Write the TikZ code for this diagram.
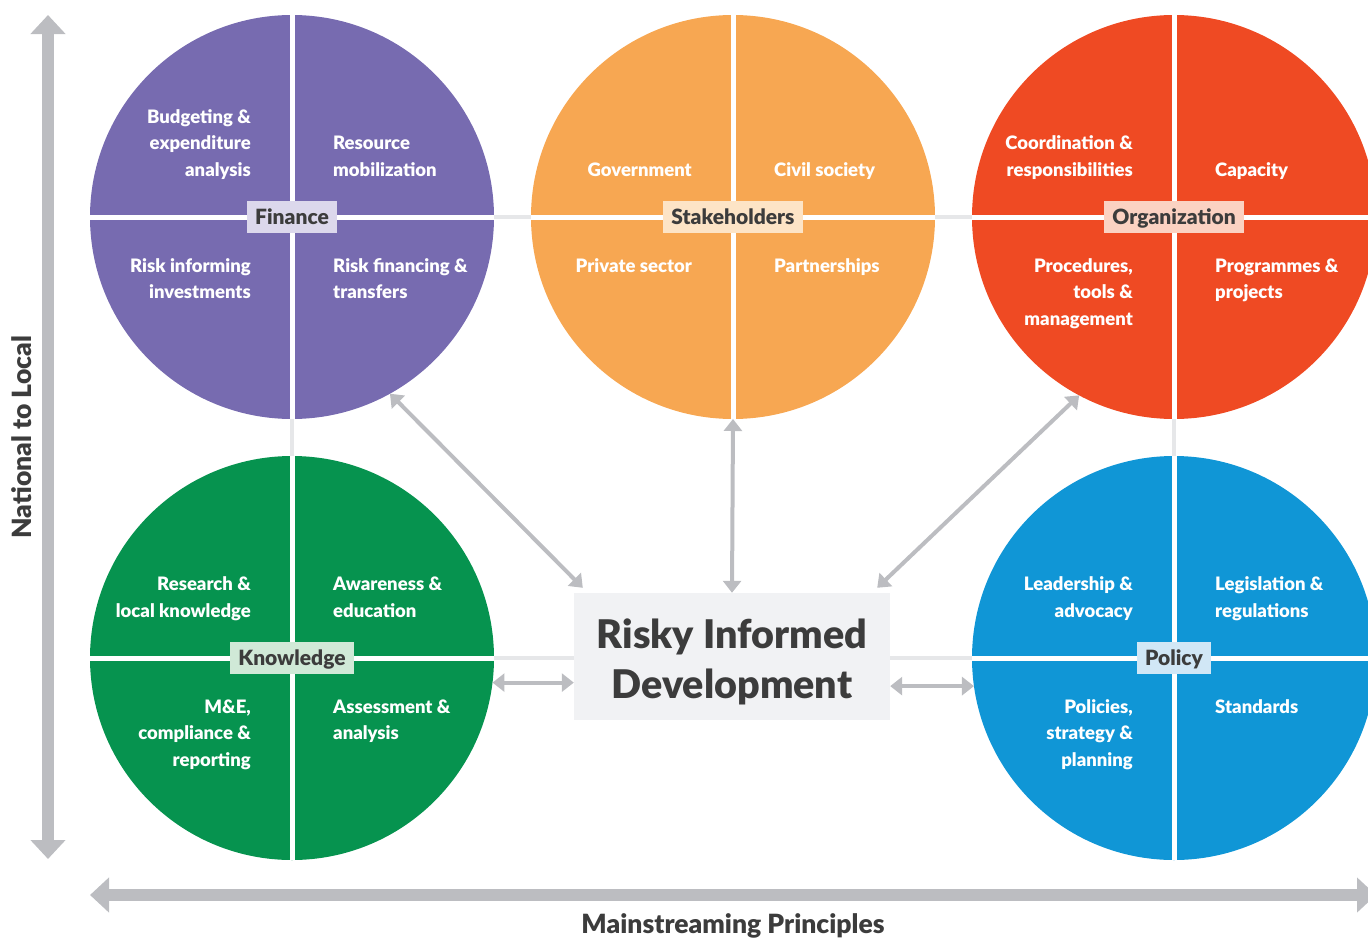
\documentclass[tikz,border=0pt]{standalone}
\usepackage{fontspec}
\setmainfont{Lato}[BoldFont={Lato Black}]
\usetikzlibrary{arrows.meta}
\definecolor{fincol}{HTML}{776BB0}
\definecolor{stkcol}{HTML}{F7A752}
\definecolor{orgcol}{HTML}{EF4A23}
\definecolor{kncol}{HTML}{06934F}
\definecolor{polcol}{HTML}{1096D6}
\definecolor{finl}{HTML}{DCD8EC}
\definecolor{stkl}{HTML}{FDE4C6}
\definecolor{orgl}{HTML}{FBD2C2}
\definecolor{knl}{HTML}{D0E9D7}
\definecolor{poll}{HTML}{D1E7F6}
\definecolor{axiscol}{HTML}{BCBDC1}
\definecolor{linkcol}{HTML}{E6E7E9}
\definecolor{txtcol}{HTML}{3C3C3C}
\definecolor{ridbg}{HTML}{F1F2F4}
\begin{document}
\begin{tikzpicture}[x=1pt,y=-1pt,
  blob/.style={circle,minimum size=404pt,inner sep=0pt,outer sep=0pt},
  linkline/.style={draw=linkcol,line width=4.5pt},
  divider/.style={draw=white,line width=5pt},
  tag/.style={font=\bfseries\fontsize{21}{24}\selectfont,text=txtcol,inner xsep=8pt,inner ysep=0pt,text height=17pt,text depth=2pt,minimum height=32pt},
  qt/.style={font=\bfseries\fontsize{18.5}{26.5}\selectfont,text=white,inner sep=0pt},
  bigarrow/.style={draw=axiscol,line width=12pt,{Triangle[length=19pt,width=34pt]}-{Triangle[length=19pt,width=34pt]}},
  thinarrow/.style={draw=axiscol,line width=4pt,{Triangle[length=12pt,width=18pt]}-{Triangle[length=12pt,width=18pt]}},
  axislabel/.style={font=\bfseries\fontsize{26.5}{30}\selectfont,text=txtcol,inner sep=0pt}]
\useasboundingbox (0,0) rectangle (1368,937);
\clip (0,0) rectangle (1368,937);
% circles
\node[blob,fill=fincol] (fin) at (292,217) {};
\node[blob,fill=stkcol] (stk) at (733,217) {};
\node[blob,fill=orgcol] (org) at (1174,217) {};
\node[blob,fill=kncol] (kno) at (292,658) {};
\node[blob,fill=polcol] (pol) at (1174,658) {};
% central box
\node[fill=ridbg,minimum width=316pt,minimum height=127pt,inner sep=0pt] (rid) at (732,656.5) {};
\node[font=\bfseries\fontsize{39.5}{50}\selectfont,text=txtcol,align=center,inner sep=0pt] (ridtext) at (732,662) {Risky Informed\\Development};
% light links
\draw[linkline] (fin.east) -- (stk.west);
\draw[linkline] (stk.east) -- (org.west);
\draw[linkline] (fin.south) -- (kno.north);
\draw[linkline] (org.south) -- (pol.north);
\draw[linkline] (kno.east) -- (kno.east -| rid.west);
\draw[linkline] (pol.west -| rid.east) -- (pol.west);
% dividers
\foreach \c in {fin,stk,org,kno,pol}{
  \draw[divider] (\c.north) -- (\c.south);
  \draw[divider] (\c.west) -- (\c.east);
}
% tags
\node[tag,fill=finl] (fintag) at (fin) {Finance};
\node[tag,fill=stkl] (stktag) at (stk) {Stakeholders};
\node[tag,fill=orgl] (orgtag) at (org) {Organization};
\node[tag,fill=knl] (knotag) at (kno) {Knowledge};
\node[tag,fill=poll] (poltag) at (pol) {Policy};
% Finance
\node[qt,anchor=base east] (f1) at (251,123) {\begin{tabular}[t]{@{}r@{}}Budgeting \&\\expenditure\\analysis\end{tabular}};
\node[qt,anchor=base west] (f2) at (333,149.5) {\begin{tabular}[t]{@{}l@{}}Resource\\mobilization\end{tabular}};
\node[qt,anchor=base east] (f3) at (251,272) {\begin{tabular}[t]{@{}r@{}}Risk informing\\investments\end{tabular}};
\node[qt,anchor=base west] (f4) at (333,272) {\begin{tabular}[t]{@{}l@{}}Risk financing \&\\transfers\end{tabular}};
% Stakeholders
\node[qt,anchor=base east] (s1) at (692,176) {Government};
\node[qt,anchor=base west] (s2) at (774,176) {Civil society};
\node[qt,anchor=base east] (s3) at (692,272) {Private sector};
\node[qt,anchor=base west] (s4) at (774,272) {Partnerships};
% Organization
\node[qt,anchor=base east] (o1) at (1133,149.5) {\begin{tabular}[t]{@{}r@{}}Coordination \&\\responsibilities\end{tabular}};
\node[qt,anchor=base west] (o2) at (1215,176) {Capacity};
\node[qt,anchor=base east] (o3) at (1133,272) {\begin{tabular}[t]{@{}r@{}}Procedures,\\tools \&\\management\end{tabular}};
\node[qt,anchor=base west] (o4) at (1215,272) {\begin{tabular}[t]{@{}l@{}}Programmes \&\\projects\end{tabular}};
% Knowledge
\node[qt,anchor=base east] (k1) at (251,590.5) {\begin{tabular}[t]{@{}r@{}}Research \&\\local knowledge\end{tabular}};
\node[qt,anchor=base west] (k2) at (333,590.5) {\begin{tabular}[t]{@{}l@{}}Awareness \&\\education\end{tabular}};
\node[qt,anchor=base east] (k3) at (251,713) {\begin{tabular}[t]{@{}r@{}}M\&E,\\compliance \&\\reporting\end{tabular}};
\node[qt,anchor=base west] (k4) at (333,713) {\begin{tabular}[t]{@{}l@{}}Assessment \&\\analysis\end{tabular}};
% Policy
\node[qt,anchor=base east] (p1) at (1133,590.5) {\begin{tabular}[t]{@{}r@{}}Leadership \&\\advocacy\end{tabular}};
\node[qt,anchor=base west] (p2) at (1215,590.5) {\begin{tabular}[t]{@{}l@{}}Legislation \&\\regulations\end{tabular}};
\node[qt,anchor=base east] (p3) at (1133,713) {\begin{tabular}[t]{@{}r@{}}Policies,\\strategy \&\\planning\end{tabular}};
\node[qt,anchor=base west] (p4) at (1215,713) {Standards};
% thin arrows
\draw[thinarrow] (fin.-61.3) -- ([shift={(9,-5)}]rid.north west);
\draw[thinarrow] (stk.south) -- (rid.north);
\draw[thinarrow] (org.-118.7) -- ([shift={(-13,-5)}]rid.north east);
\draw[thinarrow] (kno.-7.5) -- (kno.-7.5 -| rid.west);
\draw[thinarrow] (rid.east |- pol.-172.5) -- (pol.-172.5);
% axes
\coordinate (vtop) at (48,15);
\coordinate (vbot) at (48,859);
\coordinate (hleft) at (90,895);
\coordinate (hright) at (1376,895);
\draw[bigarrow] (vtop) -- (vbot);
\draw[bigarrow] (hleft) -- (hright);
\node[axislabel,rotate=90] (nl) at (22,437) {National to Local};
\node[axislabel] (mp) at (733,926) {Mainstreaming Principles};
\end{tikzpicture}
\end{document}
